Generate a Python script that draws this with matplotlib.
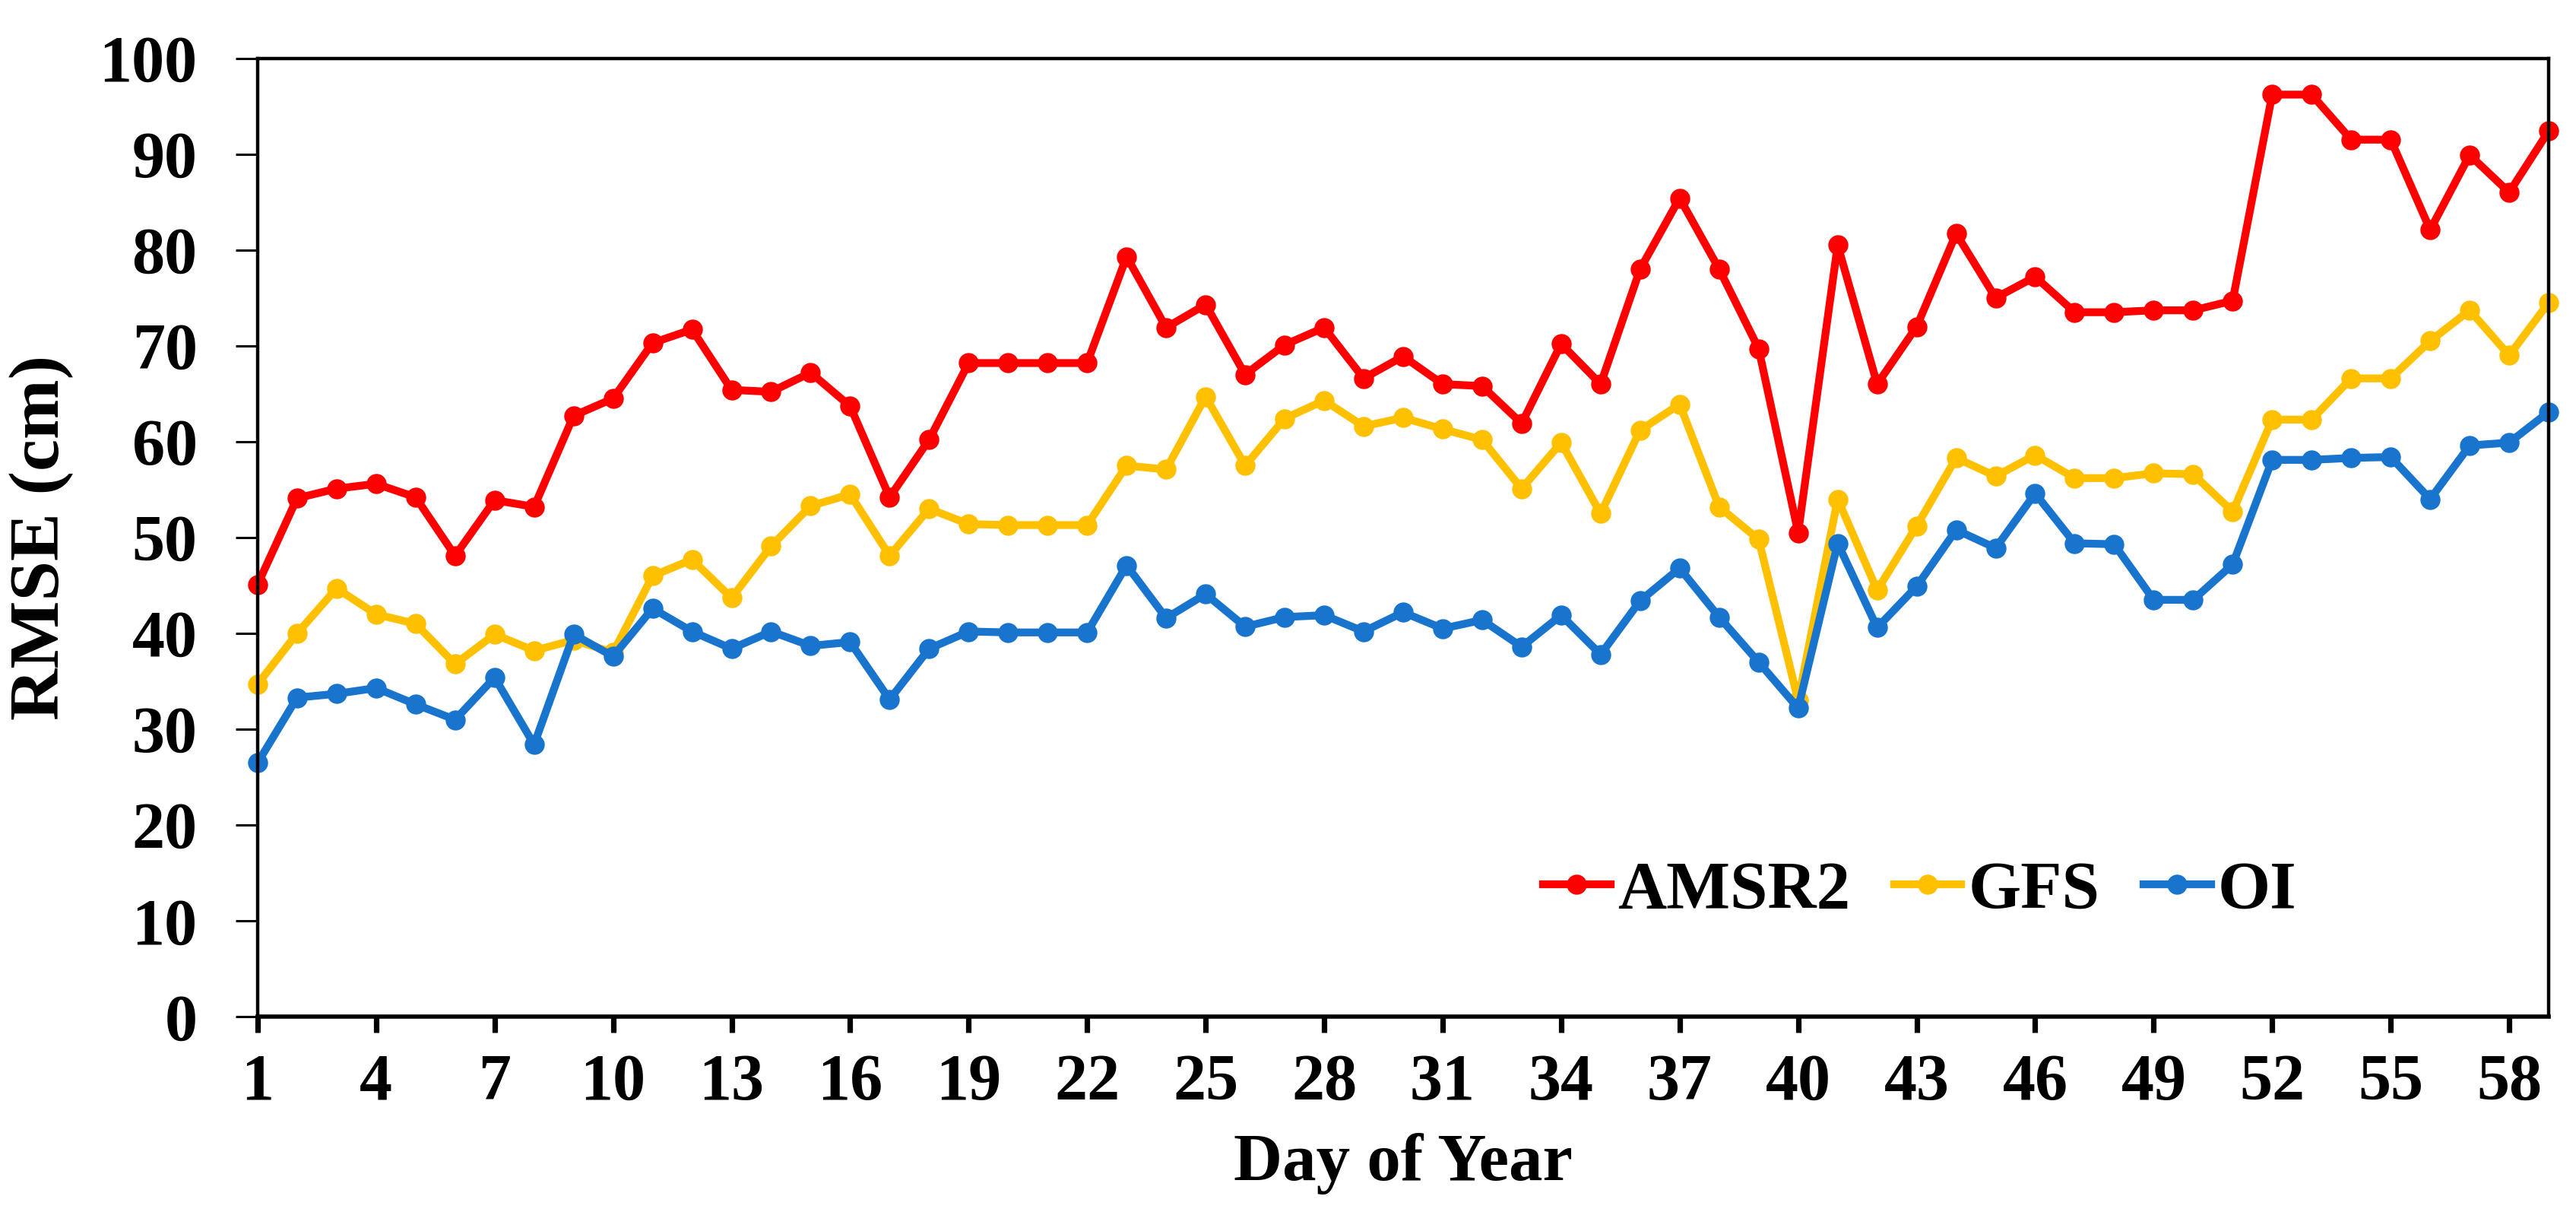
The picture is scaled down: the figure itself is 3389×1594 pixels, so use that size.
import matplotlib
matplotlib.use("Agg")
import matplotlib.pyplot as plt

days = list(range(1, 60))

amsr2 = [45.1, 54.1, 55.1, 55.6, 54.2, 48.1, 53.9, 53.2, 62.7, 64.5,
         70.3, 71.7, 65.4, 65.2, 67.2, 63.7, 54.2, 60.2, 68.2, 68.2,
         68.2, 68.2, 79.3, 71.9, 74.3, 67.0, 70.1, 71.9, 66.6, 68.9,
         66.0, 65.8, 61.9, 70.2, 66.0, 78.0, 85.4, 78.0, 69.7, 50.5,
         80.5, 66.0, 72.0, 81.7, 75.0, 77.2, 73.5, 73.5, 73.7, 73.7,
         74.7, 96.2, 96.2, 91.5, 91.5, 82.1, 89.9, 86.0, 92.4]

gfs = [34.7, 40.0, 44.7, 42.0, 41.0, 36.8, 39.9, 38.2, 39.3, 38.0,
       46.0, 47.7, 43.7, 49.1, 53.3, 54.5, 48.1, 53.0, 51.4, 51.3,
       51.3, 51.3, 57.5, 57.1, 64.7, 57.5, 62.4, 64.3, 61.6, 62.5,
       61.3, 60.2, 55.1, 59.9, 52.5, 61.2, 63.9, 53.2, 49.8, 33.0,
       54.0, 44.5, 51.2, 58.3, 56.4, 58.6, 56.2, 56.2, 56.7, 56.6,
       52.7, 62.3, 62.3, 66.6, 66.6, 70.5, 73.7, 69.0, 74.5]

oi = [26.5, 33.3, 33.7, 34.3, 32.6, 31.0, 35.4, 28.4, 39.9, 37.6,
      42.6, 40.2, 38.4, 40.2, 38.7, 39.1, 33.1, 38.4, 40.2, 40.1,
      40.1, 40.1, 47.1, 41.6, 44.1, 40.7, 41.7, 41.9, 40.2, 42.2,
      40.5, 41.4, 38.6, 41.9, 37.8, 43.4, 46.8, 41.7, 37.0, 32.2,
      49.4, 40.6, 44.9, 50.8, 48.9, 54.6, 49.4, 49.3, 43.5, 43.5,
      47.2, 58.1, 58.1, 58.3, 58.4, 54.0, 59.6, 59.9, 63.1]

series_names = ["AMSR2", "GFS", "OI"]
series_colors = ["#FF0000", "#FFC000", "#1874CD"]
xticks = list(range(1, 59, 3))
yticks = list(range(0, 101, 10))

plt.rcParams['font.family'] = ['Liberation Serif', 'DejaVu Serif']
plt.rcParams['font.weight'] = 'bold'

fig = plt.figure(figsize=(3389 / 200, 1594 / 200), dpi=200)
ax = fig.add_axes([0.100, 0.161, 0.8894, 0.791])

for vals, name, col in zip([amsr2, gfs, oi], series_names, series_colors):
    ax.plot(days, vals, color=col, lw=3.7, marker='o', ms=8.5,
            label=name, clip_on=False, solid_joinstyle='round')

ax.set_xlim(1, 59)
ax.set_ylim(0, 100)
ax.set_xticks(xticks)
ax.set_yticks(yticks)

for sp in ax.spines.values():
    sp.set_linewidth(1.6)
ax.spines['bottom'].set_linewidth(2.0)

ax.tick_params(axis='x', direction='out', length=7.5, width=2.6,
               labelsize=31, pad=10)
ax.tick_params(axis='y', direction='out', length=10.5, width=1.1,
               labelsize=31, pad=18)
for lab in ax.get_xticklabels() + ax.get_yticklabels():
    lab.set_fontweight('bold')

ax.set_xlabel("Day of Year", fontsize=32, fontweight='bold', labelpad=9)
ax.set_ylabel("RMSE (cm)", fontsize=34, fontweight='bold', labelpad=12)

leg = ax.legend(loc='center left', bbox_to_anchor=(0.561, 0.131), ncol=3,
                frameon=False, fontsize=32, handlelength=1.0,
                handletextpad=0.1, columnspacing=0.65, borderpad=0,
                borderaxespad=0, markerscale=1.0)
for t in leg.get_texts():
    t.set_fontweight('bold')

fig.savefig("out.png", dpi=200, facecolor='white')
